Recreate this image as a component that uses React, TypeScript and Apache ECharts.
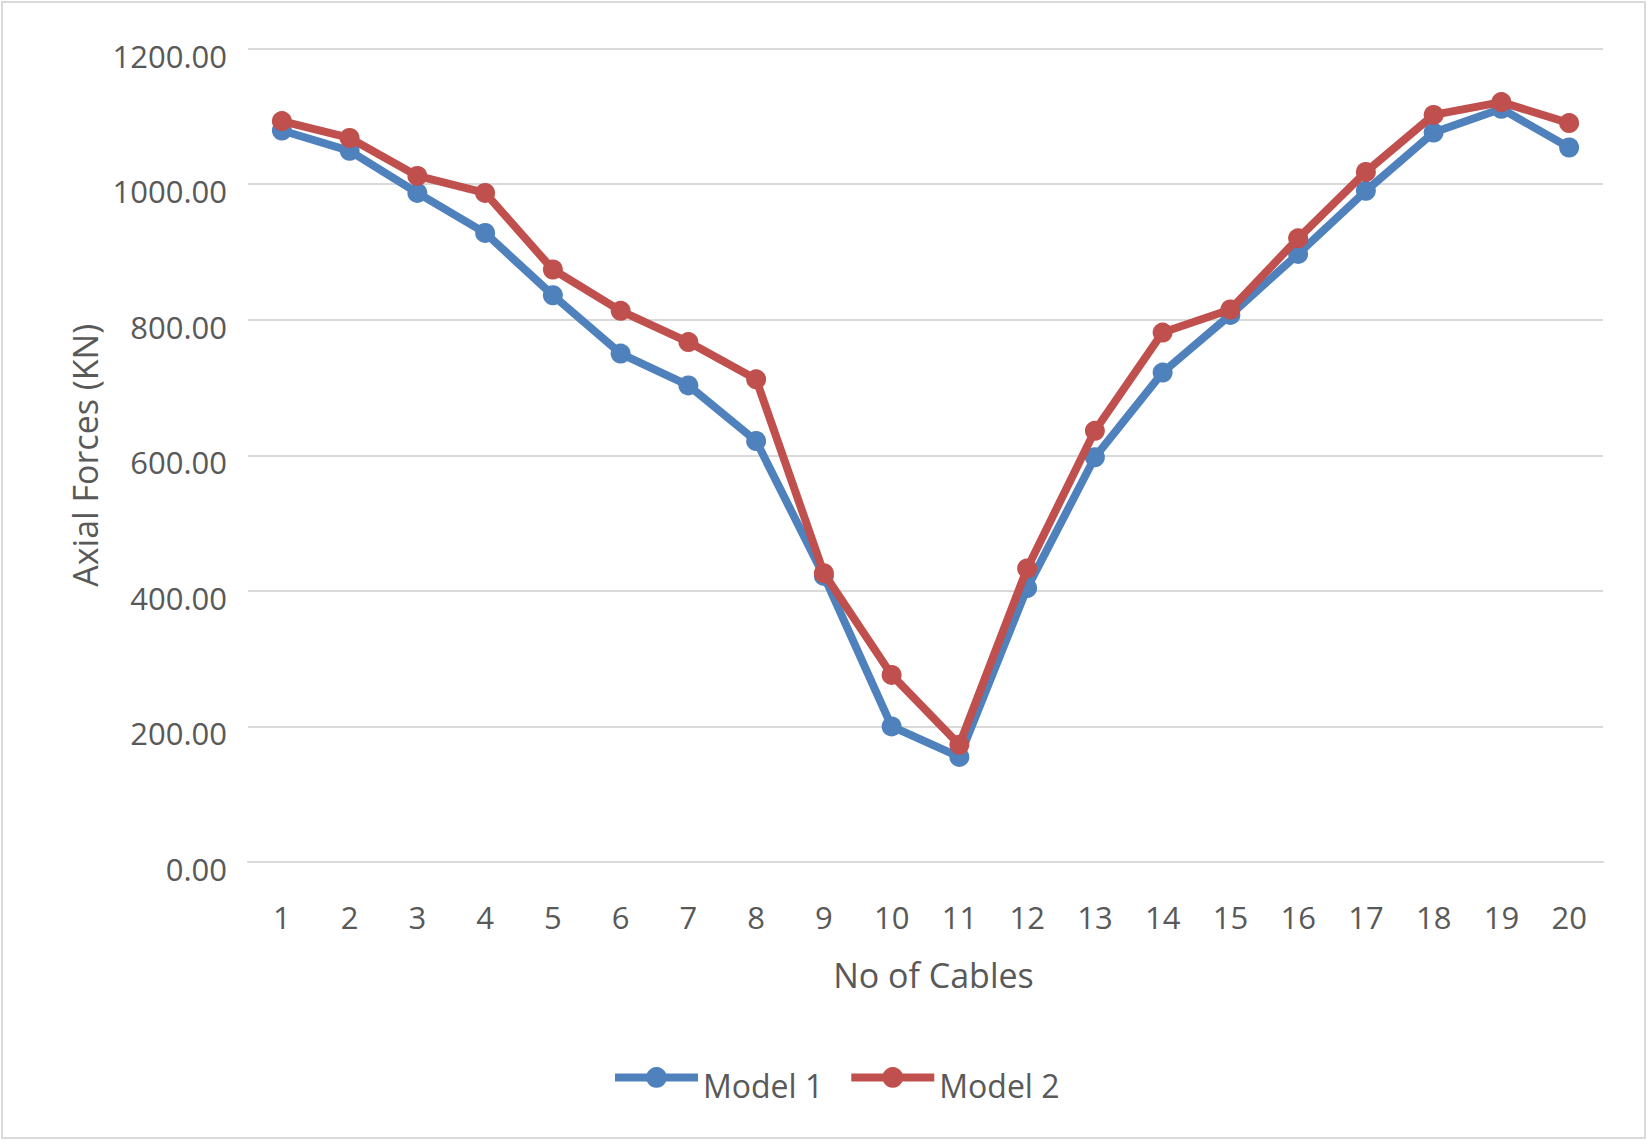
import React, { useEffect, useRef } from "react";
import * as echarts from "echarts";

const categories = ["1", "2", "3", "4", "5", "6", "7", "8", "9", "10", "11", "12", "13", "14", "15", "16", "17", "18", "19", "20"];
const model1 = [1079, 1049, 987, 928, 836, 750, 703, 621, 422, 200, 155, 404, 597, 722, 807, 897, 990, 1076, 1111, 1054];
const model2 = [1093, 1068, 1012, 987, 874, 813, 767, 712, 426, 276, 173, 433, 636, 781, 815, 920, 1018, 1102, 1121, 1090];
const seriesNames = ["Model 1", "Model 2"];
const seriesColors = ["#4F81BD", "#C0504D"];

const FONT = "'Open Sans', 'Noto Sans', sans-serif";
const TEXT = "#595959";

export default function App() {
  const ref = useRef<HTMLDivElement>(null);
  useEffect(() => {
    if (!ref.current) return;
    const chart = echarts.init(ref.current, null, { renderer: "svg" });
    chart.setOption({
      animation: false,
      backgroundColor: "#FFFFFF",
      textStyle: { fontFamily: FONT, color: TEXT },
      graphic: [
        {
          type: "rect",
          shape: { x: 2, y: 2, width: 1643, height: 1136 },
          style: { fill: "none", stroke: "#D9D9D9", lineWidth: 2 },
          silent: true,
          z: -1,
        },
      ],
      grid: { left: 248, right: 47, top: 48.5, bottom: 285, containLabel: false },
      legend: {
        data: seriesNames,
        left: 606,
        top: 1062,
        itemWidth: 83,
        itemHeight: 26,
        itemGap: 24,
        lineStyle: { width: 8 },
        formatter: (name: string) => "{a|" + name + "}",
        textStyle: {
          fontFamily: FONT,
          fontSize: 32,
          color: TEXT,
          rich: { a: { fontFamily: FONT, fontSize: 32, color: TEXT, padding: [16, 0, 0, 0] } },
        },
      },
      xAxis: {
        type: "category",
        data: categories,
        boundaryGap: true,
        name: "No of Cables",
        nameLocation: "middle",
        nameGap: 96,
        nameTextStyle: { fontFamily: FONT, fontSize: 34, color: TEXT, padding: [0, 0, 0, 16] },
        axisLine: { show: true, lineStyle: { color: "#D9D9D9", width: 2 } },
        axisTick: { show: false },
        axisLabel: { fontFamily: FONT, fontSize: 31, color: TEXT, margin: 39 },
      },
      yAxis: {
        type: "value",
        min: 0,
        max: 1200,
        interval: 200,
        name: "Axial Forces (KN)",
        nameLocation: "middle",
        nameRotate: 90,
        nameGap: 144,
        nameTextStyle: { fontFamily: FONT, fontSize: 34, color: TEXT },
        axisLine: { show: false },
        axisTick: { show: false },
        axisLabel: {
          margin: 21,
          formatter: (v: number) => "{a|" + v.toFixed(2) + "}",
          rich: { a: { fontFamily: FONT, fontSize: 31, color: TEXT, padding: [14, 0, 0, 0] } },
        },
        splitLine: { show: true, lineStyle: { color: "#D9D9D9", width: 2 } },
      },
      series: [
        {
          name: seriesNames[0],
          type: "line",
          data: model1,
          color: seriesColors[0],
          symbol: "circle",
          symbolSize: 20,
          lineStyle: { width: 8, color: seriesColors[0] },
          itemStyle: { color: seriesColors[0] },
          z: 2,
        },
        {
          name: seriesNames[1],
          type: "line",
          data: model2,
          color: seriesColors[1],
          symbol: "circle",
          symbolSize: 20,
          lineStyle: { width: 8, color: seriesColors[1] },
          itemStyle: { color: seriesColors[1] },
          z: 3,
        },
      ],
    });
    return () => chart.dispose();
  }, []);
  return (
    <div
      ref={ref}
      style={{ position: "absolute", left: 0, top: 0, width: 1650, height: 1147 }}
    />
  );
}
